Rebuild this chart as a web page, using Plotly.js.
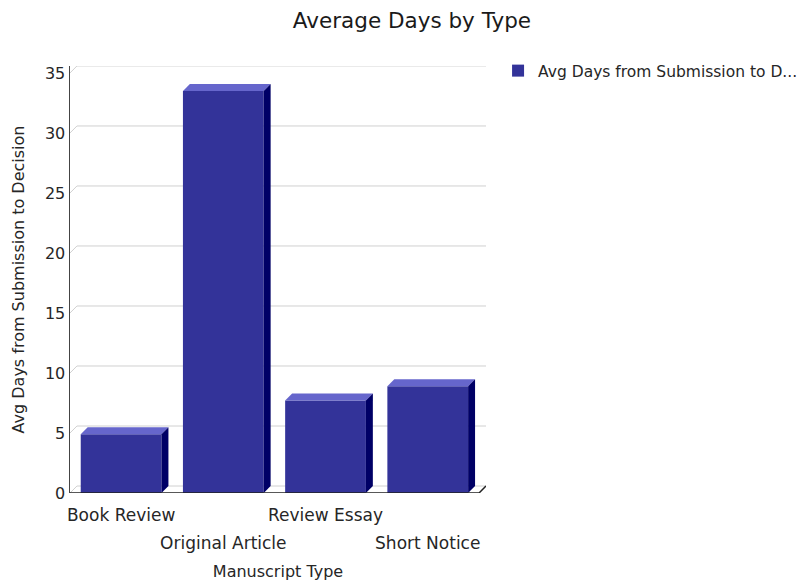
<!DOCTYPE html>
<html>
<head>
<meta charset="utf-8">
<script src="https://cdn.plot.ly/plotly-3.0.1.min.js"></script>
<style>html,body{margin:0;padding:0;background:#fff;}</style>
</head>
<body>
<div id="chart" style="width:803px;height:582px;"></div>
<script>
const categories = ["Book Review", "Original Article", "Review Essay", "Short Notice"];
const avgDays = [4.9, 33.5, 7.7, 8.9];
const yTicks = [0, 5, 10, 15, 20, 25, 30, 35];
const seriesName = "Avg Days from Submission to D...";

const FONT = "DejaVu Sans, sans-serif";
const TXT = "#262626";
const FRONT = "#333399", TOP = "#6666cc", SIDE = "#000066";
const barW = 0.79, dx = 0.068, dy = 0.583;
const xIdx = categories.map((c, i) => i);
const evenIdx = xIdx.filter(i => i % 2 === 0), oddIdx = xIdx.filter(i => i % 2 === 1);

const traces = [{
  type: "bar", x: xIdx, y: avgDays, width: barW, name: seriesName,
  marker: {color: FRONT, line: {width: 0}}, showlegend: true,
  hovertemplate: "%{y}<extra></extra>"
}];
xIdx.forEach((x, i) => {
  const v = avgDays[i], l = x - barW / 2, r = x + barW / 2;
  traces.push({type: "scatter", mode: "lines", x: [l, r, r + dx, l + dx, l], y: [v, v, v + dy, v + dy, v],
    fill: "toself", fillcolor: TOP, line: {width: 0, color: TOP}, showlegend: false, hoverinfo: "skip"});
  traces.push({type: "scatter", mode: "lines", x: [r, r + dx, r + dx, r, r], y: [0, dy, v + dy, v, 0],
    fill: "toself", fillcolor: SIDE, line: {width: 0, color: SIDE}, showlegend: false, hoverinfo: "skip"});
});
// carrier trace so the staggered second row of category labels (xaxis2) is drawn
traces.push({type: "scatter", mode: "markers", x: xIdx, y: avgDays, xaxis: "x2", yaxis: "y",
  marker: {opacity: 0, size: 1}, showlegend: false, hoverinfo: "skip"});

const xMin = -0.5, xMax = 3.57;
const shapes = yTicks.map(t => ({
  type: "path", xref: "x", yref: "y", layer: "below",
  path: `M ${xMin},${t} L ${xMin + dx},${t + dy} L ${xMax},${t + dy}`,
  line: {color: "#d0d0d0", width: 1}
}));
shapes.push({
  type: "path", xref: "x", yref: "y", layer: "above",
  path: `M ${xMin},0 L ${xMax - dx},0 L ${xMax},${dy}`,
  line: {color: "#222222", width: 1.5}
});

const tickFont = {family: FONT, size: 17, color: TXT};
const layout = {
  width: 803, height: 582,
  margin: {l: 70, r: 317, t: 66, b: 89, pad: 0, autoexpand: false},
  paper_bgcolor: "#ffffff", plot_bgcolor: "#ffffff",
  font: {family: FONT, size: 16, color: TXT},
  title: {text: "Average Days by Type", x: 0.513, xanchor: "center", y: 0.965, yanchor: "middle",
    font: {family: FONT, size: 21.5, color: "#1a1a1a"}},
  showlegend: true,
  legend: {x: 1.029, xanchor: "left", y: 1.028, yanchor: "top", font: {family: FONT, size: 15.5, color: TXT},
    bgcolor: "rgba(0,0,0,0)"},
  xaxis: {range: [xMin, xMax], tickvals: evenIdx, ticktext: evenIdx.map(i => categories[i]),
    tickangle: 0, automargin: false, ticklabelstandoff: 10,
    showgrid: false, zeroline: false, showline: false, ticks: "",
    tickfont: tickFont, fixedrange: true},
  xaxis2: {range: [xMin, xMax], overlaying: "x", anchor: "y", side: "bottom",
    tickvals: oddIdx, ticktext: oddIdx.map(i => categories[i]),
    tickangle: 0, automargin: true, ticklabelstandoff: 38,
    showgrid: false, zeroline: false, showline: false, ticks: "",
    tickfont: tickFont,
    title: {text: "Manuscript Type", font: {family: FONT, size: 16, color: TXT}, standoff: 13},
    fixedrange: true},
  yaxis: {range: [0, 35.58], tickvals: yTicks, showgrid: false, zeroline: false, automargin: false,
    showline: true, linecolor: "#444444", linewidth: 1.5, ticks: "",
    tickfont: {family: FONT, size: 16, color: TXT},
    title: {text: "Avg Days from Submission to Decision", font: {family: FONT, size: 16, color: TXT}, standoff: 16},
    fixedrange: true},
  shapes: shapes
};

Plotly.newPlot("chart", traces, layout, {displayModeBar: false, staticPlot: true});
</script>
</body>
</html>
